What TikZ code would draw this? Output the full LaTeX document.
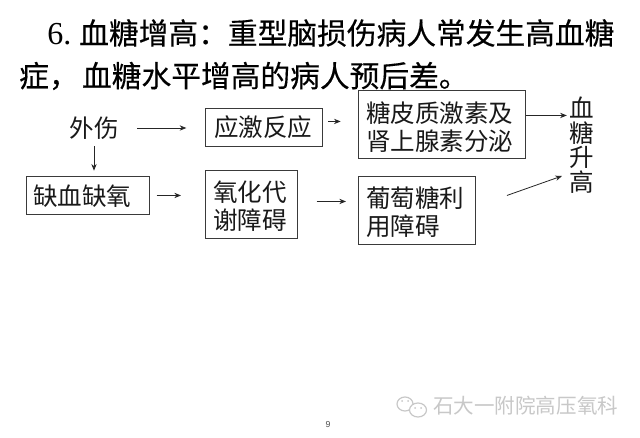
\documentclass[tikz,border=0pt]{standalone}
\usepackage{fontspec}
\setmainfont{Noto Sans CJK SC}
\newfontfamily\heavyf[FakeBold=0.35]{Noto Sans CJK SC}
\newfontfamily\latinf{Liberation Serif}
\newfontfamily\pagef{Liberation Sans}
\usetikzlibrary{arrows.meta}
\definecolor{wm}{HTML}{C8C8C8}
\definecolor{edge}{HTML}{3A3A3A}
\tikzset{
  x=0.75pt,y=-0.75pt,
  boxA/.style={draw=edge,line width=0.7pt,fill=white,inner sep=0pt,anchor=north west},
  lbl/.style={inner sep=0pt,font=\fontsize{18.4pt}{21pt}\selectfont,text=black!90},
  inlbl/.style={lbl,anchor=west},
  title/.style={inner sep=0pt,anchor=west,font=\heavyf\fontsize{22.3pt}{26pt}\selectfont,text=black},
  arr/.style={draw=black!85,line width=0.6pt,-{Stealth[length=5pt,width=4pt]}},
}
\begin{document}
\begin{tikzpicture}
\useasboundingbox[fill=white] (0,0) rectangle (640,438);
% title
\node[title] (t1) at (47,33) {{\latinf\fontsize{24pt}{26pt}\selectfont 6.}\hspace{6pt}血糖增高：重型脑损伤病人常发生高血糖};
\node[title] (t2) at (19,76) {症，\hspace{2.5pt}血糖水平增高的病人预后差。};
% boxes
\node[boxA,minimum width=87.75pt,minimum height=28.5pt] (stress) at (205,108) {};
\node[inlbl] (stressT) at (214,127) {应激反应};
\node[boxA,minimum width=125.25pt,minimum height=51pt] (horm) at (358,90) {};
\node[inlbl] (hormA) at (366,113) {糖皮质激素及};
\node[inlbl] (hormB) at (366,141) {肾上腺素分泌};
\node[boxA,minimum width=92.25pt,minimum height=28.5pt] (isch) at (26,176) {};
\node[inlbl] (ischT) at (33,196) {缺血缺氧};
\node[boxA,minimum width=69pt,minimum height=51pt] (oxid) at (205,170) {};
\node[inlbl] (oxidA) at (213,192) {氧化代};
\node[inlbl] (oxidB) at (213,220) {谢障碍};
\node[boxA,minimum width=87.75pt,minimum height=51pt] (gluc) at (358,176) {};
\node[inlbl] (glucA) at (366,198) {葡萄糖利};
\node[inlbl] (glucB) at (366,226) {用障碍};
% free labels
\node[lbl,align=center,font=\fontsize{18.4pt}{18.4pt}\selectfont] (rise) at (582,145) {血\\[0pt]糖\\[0pt]升\\[0pt]高};
\node[lbl] (trauma) at (94,128) {外伤};
% anchors for connectors that leave a box off-centre
\coordinate (stressOut) at ([yshift=4.5pt]stress.east);
\coordinate (hormOut) at ([yshift=6.75pt]horm.east);
\coordinate (oxidOut) at ([yshift=2.25pt]oxid.east);
\coordinate (glucOut) at ([xshift=23.25pt,yshift=11.25pt]gluc.east);
\coordinate (riseIn) at ([xshift=-15pt,yshift=-23.25pt]rise.center);
% connectors
\draw[arr,shorten <=14pt,shorten >=14pt] (trauma.east) -- (stress.west |- trauma.east);
\draw[arr,shorten <=5pt,shorten >=4pt] (trauma.south) -- (trauma.south |- isch.north);
\draw[arr,shorten <=5pt,shorten >=18pt] (isch.east) -- (oxid.west |- isch.east);
\draw[arr,shorten <=4pt,shorten >=13pt] (stressOut) -- (horm.west |- stressOut);
\draw[arr,shorten >=2pt] (hormOut) -- (hormOut -| rise.west);
\draw[arr,shorten <=14pt,shorten >=9pt] (oxidOut) -- (gluc.west |- oxidOut);
\draw[arr] (glucOut) -- (riseIn);
% footer
\node[inner sep=0pt,font=\pagef\fontsize{6.5pt}{7pt}\selectfont,text=black!70] (pg) at (328,425) {9};
\node[inner sep=0pt,anchor=west,font=\fontsize{15.4pt}{17pt}\selectfont,text=wm] (wmk) at (433,406) {石大一附院高压氧科};
% watermark icon
\draw[wm,line width=0.9pt] (405,404) ellipse[x radius=8,y radius=7];
\draw[wm,line width=0.9pt,fill=white] (418,410) ellipse[x radius=8.5,y radius=7];
\fill[wm] (402,401) circle(1) (408,401) circle(1) (415,408) circle(1) (421,408) circle(1);
\end{tikzpicture}
\end{document}
